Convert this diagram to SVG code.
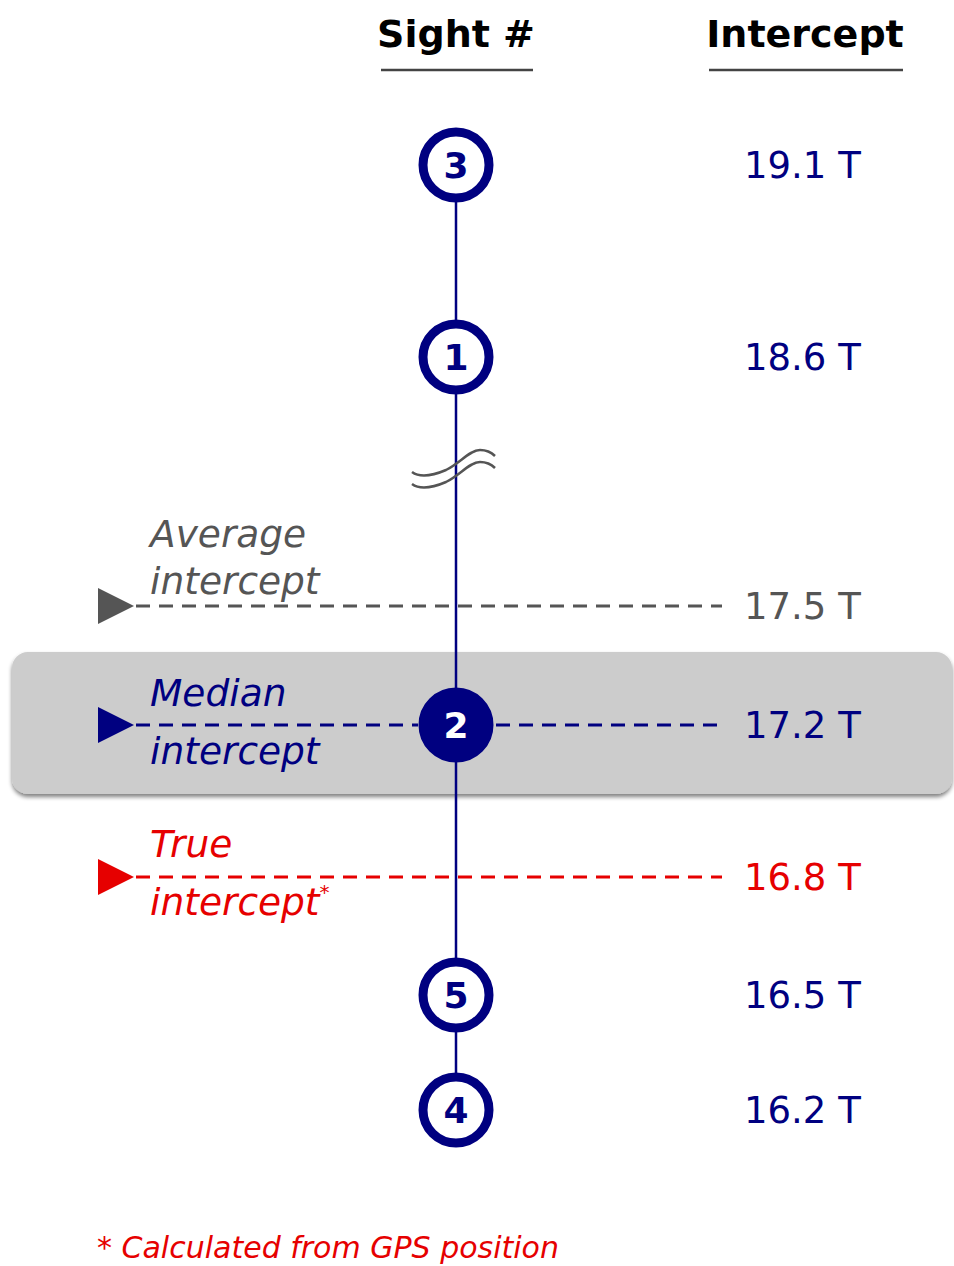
<svg xmlns="http://www.w3.org/2000/svg" width="954" height="1266" viewBox="0 0 954 1266">
<defs>
<style>
.hdr{font-family:"DejaVu Sans",sans-serif;font-weight:bold;font-size:38px;fill:#000;text-anchor:middle}
.ul{stroke:#444;stroke-width:2.5}
.val{font-family:"DejaVu Sans",sans-serif;font-size:37px}
.lbl{font-family:"DejaVu Sans",sans-serif;font-style:italic;font-size:37.5px}
.node circle{stroke:#000080;stroke-width:9}
.num{font-family:"DejaVu Sans",sans-serif;font-weight:bold;font-size:36px;text-anchor:middle}
.navy{fill:#000080}
.gray{fill:#555}
.red{fill:#e60000}
.dash{stroke-width:3;stroke-dasharray:14 9;fill:none}
.wave{fill:none;stroke:#555;stroke-width:2.5}
</style>
<filter id="sh" x="-5%" y="-10%" width="110%" height="130%">
<feGaussianBlur in="SourceAlpha" stdDeviation="2"/>
<feOffset dx="0" dy="3"/>
<feComponentTransfer><feFuncA type="linear" slope="0.5"/></feComponentTransfer>
<feMerge><feMergeNode/><feMergeNode in="SourceGraphic"/></feMerge>
</filter>
</defs>
<rect width="954" height="1266" fill="#fff"/>

<g id="headers">
<text class="hdr" x="456" y="47">Sight #</text>
<line class="ul" x1="381" y1="70" x2="533" y2="70"/>
<text class="hdr" x="805" y="47">Intercept</text>
<line class="ul" x1="709" y1="70" x2="903" y2="70"/>
</g>

<g id="median-band">
<rect x="12" y="652" width="940" height="142" rx="16" fill="#cccccc" filter="url(#sh)"/>
</g>

<g id="connectors">
<line x1="456" y1="165" x2="456" y2="1110" stroke="#000080" stroke-width="2.5"/>
<path class="wave" d="M412,472 C420,478 432,476 446,470 C460,463 470,450 480,450 C487,450 492,453 495,456"/>
<path class="wave" d="M412,484 C420,490 432,488 446,482 C460,475 470,462 480,462 C487,462 492,465 495,468"/>
<line class="dash" x1="136" y1="606" x2="722" y2="606" stroke="#555"/>
<line class="dash" x1="136" y1="725" x2="418" y2="725" stroke="#000080"/>
<line class="dash" x1="496" y1="725" x2="722" y2="725" stroke="#000080"/>
<line class="dash" x1="136" y1="877" x2="722" y2="877" stroke="#e60000"/>
<polygon points="98,588 134,606 98,624" fill="#555"/>
<polygon points="98,707 134,725 98,743" fill="#000080"/>
<polygon points="98,859 134,877 98,895" fill="#e60000"/>
</g>

<g id="sight3" class="node">
<circle cx="456" cy="165" r="33" fill="#fff"/>
<text class="num navy" x="456" y="178">3</text>
<text class="val navy" x="744" y="178">19.1 T</text>
</g>
<g id="sight1" class="node">
<circle cx="456" cy="357" r="33" fill="#fff"/>
<text class="num navy" x="456" y="370">1</text>
<text class="val navy" x="744" y="370">18.6 T</text>
</g>
<g id="average">
<text class="lbl gray" x="150" y="547">Average</text>
<text class="lbl gray" x="150" y="594">intercept</text>
<text class="val gray" x="744" y="619">17.5 T</text>
</g>
<g id="sight2" class="node">
<circle cx="456" cy="725" r="33" fill="#000080"/>
<text class="num" x="456" y="738" fill="#fff">2</text>
<text class="lbl navy" x="150" y="706">Median</text>
<text class="lbl navy" x="150" y="764">intercept</text>
<text class="val navy" x="744" y="738">17.2 T</text>
</g>
<g id="true">
<text class="lbl red" x="150" y="857">True</text>
<text class="lbl red" x="150" y="915">intercept<tspan font-size="20" dy="-16">*</tspan></text>
<text class="val red" x="744" y="890">16.8 T</text>
</g>
<g id="sight5" class="node">
<circle cx="456" cy="995" r="33" fill="#fff"/>
<text class="num navy" x="456" y="1008">5</text>
<text class="val navy" x="744" y="1008">16.5 T</text>
</g>
<g id="sight4" class="node">
<circle cx="456" cy="1110" r="33" fill="#fff"/>
<text class="num navy" x="456" y="1123">4</text>
<text class="val navy" x="744" y="1123">16.2 T</text>
</g>
<g id="footnote">
<text class="red" x="97" y="1258" font-family="DejaVu Sans, sans-serif" font-style="italic" font-size="30">* Calculated from GPS position</text>
</g>
</svg>
